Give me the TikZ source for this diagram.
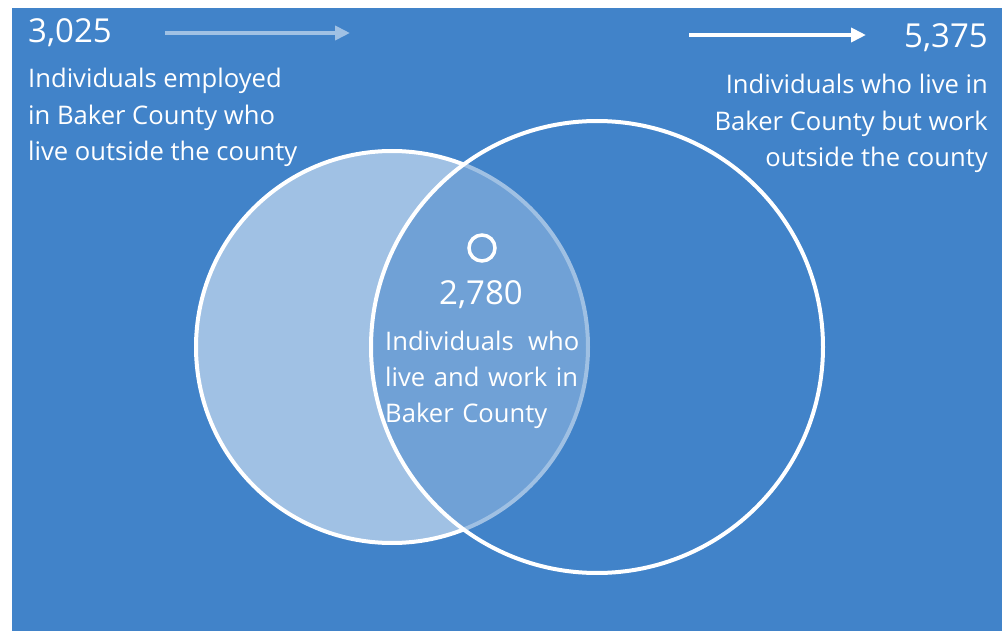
\documentclass[tikz,border=0pt]{standalone}
\usepackage{fontspec}
\setmainfont{Open Sans}
\usetikzlibrary{arrows.meta}
\definecolor{bgblue}{RGB}{65,131,201}
\colorlet{paleblue}{white!50!bgblue}
\tikzset{
  labeltext/.style={text=white, inner sep=0pt, font=\fontsize{25.6}{36.5}\selectfont},
  counttext/.style={text=white, inner sep=0pt, font=\fontsize{33}{38}\selectfont},
  flowarrow/.style={line width=4pt, -{Triangle[length=15pt,width=14pt]}},
  ring/.style={circle, draw=white, line width=4pt, inner sep=0pt},
}
\begin{document}
\begin{tikzpicture}[x=1pt,y=-1pt]
    \useasboundingbox (0,0) rectangle (1002,631);
    \fill[bgblue] (12,8) rectangle (1002,631);
    % the two sets
    \node[ring, minimum size=392pt, fill=white, fill opacity=0.5] (work) at (392,347) {};
    \node[ring, minimum size=452pt, fill=bgblue, fill opacity=0.5] (live) at (597,347) {};
    \node[ring, minimum size=26pt, line width=3.5pt] (dot) at (482,248) {};
    % left side
    \node[counttext, anchor=base west] (n1) at (28,43) {3,025};
    \node[labeltext, anchor=base west, align=left] (t1) at (28,161)
      {Individuals employed\\in Baker County who\\live outside the county};
    \coordinate (a1) at (165,33);
    \coordinate (b1) at (350,33);
    \draw[flowarrow, paleblue] (a1) -- (b1);
    % right side
    \node[counttext, anchor=base east] (n2) at (988,48) {5,375};
    \node[labeltext, anchor=base east, align=right] (t2) at (988,167)
      {Individuals who live in\\Baker County but work\\outside the county};
    \coordinate (a2) at (689,35);
    \coordinate (b2) at (866,35);
    \draw[flowarrow, white] (a2) -- (b2);
    % overlap
    \node[counttext, anchor=base] (n3) at (481,305) {2,780};
    \node[labeltext, anchor=base west, align=left, text width=194pt] (t3) at (385,350)
      {Individuals\hfill who\\live and work in\\Baker County};
\end{tikzpicture}
\end{document}
